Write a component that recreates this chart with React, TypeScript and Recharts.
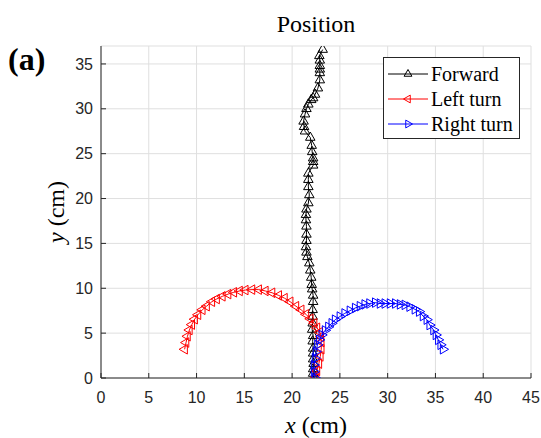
import React from 'react';
import { ScatterChart, Scatter, XAxis, YAxis, CartesianGrid, Legend, Label } from 'recharts';

const xTicks = [0, 5, 10, 15, 20, 25, 30, 35, 40, 45];
const yTicks = [0, 5, 10, 15, 20, 25, 30, 35];
const seriesNames = ['Forward', 'Left turn', 'Right turn'];
const seriesColors = ['#000000', '#ff0000', '#0000ff'];
const markerDirs = ['up', 'left', 'right'];

const forwardPath: [number, number][] = [
  [22.3, 0], [22.2, 0.5], [22.2, 1.0], [22.25, 1.6], [22.2, 2.1], [22.2, 2.75], [22.2, 3.3],
  [22.15, 4.1], [22.2, 4.7], [22.1, 5.4], [22.15, 6.1], [22.15, 6.85], [22.15, 7.6], [22.2, 8.5],
  [22.2, 9.2], [22.1, 9.9], [22.05, 10.4], [22.0, 11.2], [21.9, 12.0], [21.8, 12.8], [21.6, 13.5],
  [21.5, 14.0], [21.45, 14.6], [21.5, 15.3], [21.5, 16.0], [21.5, 16.9], [21.45, 17.6], [21.45, 18.2],
  [21.5, 18.8], [21.7, 19.5], [21.8, 20.4], [21.7, 21.3], [21.7, 22.1], [21.7, 22.8], [22.2, 23.7],
  [22.2, 24.1], [22.2, 24.5], [22.1, 25.2], [22.05, 25.9], [21.9, 26.8], [21.35, 27.5], [21.25, 28.0],
  [21.2, 28.6], [21.35, 29.4], [21.5, 30.0], [21.7, 30.5], [22.0, 31.0], [22.2, 31.2], [22.4, 31.6],
  [22.7, 32.3], [22.9, 33.2], [22.9, 34.0], [22.9, 34.4], [22.9, 34.8], [22.9, 35.4], [22.85, 35.9],
  [23.2, 36.6],
];

const leftTurnX = [
  22.5, 22.6, 22.8, 22.95, 23.05, 23.05, 23.0, 22.9, 22.6, 22.3, 21.9, 21.45, 20.95, 20.4, 19.8,
  19.2, 18.6, 17.9, 17.2, 16.5, 15.8, 15.1, 14.5, 13.9, 13.3, 12.7, 12.1, 11.6, 11.05, 10.6,
  10.15, 9.8, 9.5, 9.25, 9.05, 8.9, 8.75,
];
const leftTurnY = [
  0.1, 0.8, 1.6, 2.4, 3.2, 4.0, 4.6, 5.1, 5.6, 6.1, 6.6, 7.1, 7.6, 8.0, 8.5,
  8.9, 9.2, 9.5, 9.7, 9.85, 9.85, 9.8, 9.7, 9.55, 9.35, 9.1, 8.8, 8.5, 8.0, 7.6,
  7.05, 6.55, 5.95, 5.35, 4.65, 3.95, 3.2,
];

const rightTurnX = [
  22.4, 22.3, 22.3, 22.4, 22.5, 22.65, 22.85, 23.1, 23.45, 23.8, 24.15, 24.5, 25.0, 25.5, 26.05,
  26.6, 27.1, 27.6, 28.1, 28.7, 29.2, 29.7, 30.25, 30.8, 31.3, 31.8, 32.3, 32.85, 33.3, 33.7,
  34.1, 34.4, 34.8, 35.05, 35.3, 35.55, 35.8,
];
const rightTurnY = [
  0.0, 0.7, 1.45, 2.2, 2.95, 3.7, 4.25, 4.8, 5.3, 5.7, 6.1, 6.5, 6.85, 7.2, 7.5,
  7.8, 8.0, 8.2, 8.3, 8.4, 8.3, 8.3, 8.3, 8.3, 8.2, 8.15, 7.95, 7.65, 7.4, 6.9,
  6.5, 5.9, 5.35, 4.8, 4.25, 3.7, 3.2,
];

const toPoints = (xs: number[], ys: number[]) => xs.map((x, i) => ({ x, y: ys[i] }));
const forwardData = forwardPath.map(([x, y]) => ({ x, y }));
const leftData = toPoints(leftTurnX, leftTurnY);
const rightData = toPoints(rightTurnX, rightTurnY);
const allData = [forwardData, leftData, rightData];

const AXIS = '#262626';
const SERIF = '"Liberation Serif", "Times New Roman", Times, serif';
const SANS = '"Liberation Sans", Arial, Helvetica, sans-serif';

const triPoints = (cx: number, cy: number, dir: string, r = 5.5) => {
  const angles = dir === 'up' ? [-90, 30, 150] : dir === 'left' ? [180, -60, 60] : [0, 120, 240];
  return angles
    .map((a) => `${cx + r * Math.cos((a * Math.PI) / 180)},${cy + r * Math.sin((a * Math.PI) / 180)}`)
    .join(' ');
};

const makeShape = (dir: string, color: string) => (props: any) => {
  const { cx, cy } = props;
  if (cx == null || cy == null) return <g />;
  return <polygon points={triPoints(cx, cy, dir)} fill="none" stroke={color} strokeWidth={1} />;
};

const LegendBox = () => (
  <svg width={138} height={82} style={{ display: 'block' }}>
    <rect x={0.5} y={0.5} width={136} height={81} fill="#ffffff" stroke={AXIS} strokeWidth={1} />
    {seriesNames.map((name, i) => {
      const cy = 17 + i * 25;
      return (
        <g key={name}>
          <line x1={5} x2={45} y1={cy} y2={cy} stroke={seriesColors[i]} strokeWidth={1} />
          <polygon points={triPoints(25, cy, markerDirs[i], 4.5)} fill="none" stroke={seriesColors[i]} strokeWidth={1} />
          <text x={48} y={cy + 7} fontFamily={SERIF} fontSize={20} fill="#000">
            {name}
          </text>
        </g>
      );
    })}
  </svg>
);

const ChartTexts = () => (
  <g>
    <text x={316} y={32} textAnchor="middle" fontFamily={SERIF} fontSize={24} fill="#000">
      Position
    </text>
    <text x={8} y={70} fontFamily={SERIF} fontSize={32} fontWeight="bold" fill="#000">
      (a)
    </text>
    <text x={316} y={433} textAnchor="middle" fontFamily={SERIF} fontSize={24} fill="#000">
      <tspan fontStyle="italic">x</tspan> (cm)
    </text>
  </g>
);

export default function App() {
  return (
    <div style={{ position: 'absolute', left: 0, top: 0 }}>
      <ScatterChart width={541} height={438} margin={{ top: 46, right: 10, bottom: 30, left: 61 }}>
        <CartesianGrid stroke="#dfdfdf" strokeWidth={1} />
        <XAxis
          xAxisId={0}
          dataKey="x"
          type="number"
          domain={[0, 45]}
          ticks={xTicks}
          interval={0}
          allowDataOverflow
          height={30}
          tickSize={-5}
          tickMargin={19}
          stroke={AXIS}
          tick={{ fill: AXIS, fontSize: 16, fontFamily: SANS }}
        >
          <Label content={() => <ChartTexts />} />
        </XAxis>
        <XAxis
          xAxisId="top"
          orientation="top"
          type="number"
          domain={[0, 45]}
          ticks={xTicks}
          interval={0}
          allowDataOverflow
          height={0}
          tickSize={-5}
          tick={false}
          stroke={AXIS}
        />
        <YAxis
          yAxisId={0}
          dataKey="y"
          type="number"
          domain={[0, 37]}
          ticks={yTicks}
          interval={0}
          allowDataOverflow
          width={40}
          tickSize={-5}
          tickMargin={13}
          stroke={AXIS}
          tick={{ fill: AXIS, fontSize: 16, fontFamily: SANS }}
        >
          <Label
            content={() => (
              <text
                x={64}
                y={212}
                textAnchor="middle"
                transform="rotate(-90 64 212)"
                fontFamily={SERIF}
                fontSize={24}
                fill="#000"
              >
                <tspan fontStyle="italic">y</tspan> (cm)
              </text>
            )}
          />
        </YAxis>
        <YAxis
          yAxisId="right"
          orientation="right"
          type="number"
          domain={[0, 37]}
          ticks={yTicks}
          interval={0}
          allowDataOverflow
          width={0}
          tickSize={-5}
          tick={false}
          stroke={AXIS}
        />
        {allData.map((d, i) => (
          <Scatter
            key={seriesNames[i]}
            name={seriesNames[i]}
            data={d}
            xAxisId={0}
            yAxisId={0}
            line={{ stroke: seriesColors[i], strokeWidth: 1 }}
            lineType="joint"
            shape={makeShape(markerDirs[i], seriesColors[i])}
            isAnimationActive={false}
          />
        ))}
        <Legend
          layout="horizontal"
          verticalAlign="middle"
          align="center"
          wrapperStyle={{ position: 'absolute', left: 383, top: 57, width: 138, height: 82 }}
          content={() => <LegendBox />}
        />
      </ScatterChart>
    </div>
  );
}
